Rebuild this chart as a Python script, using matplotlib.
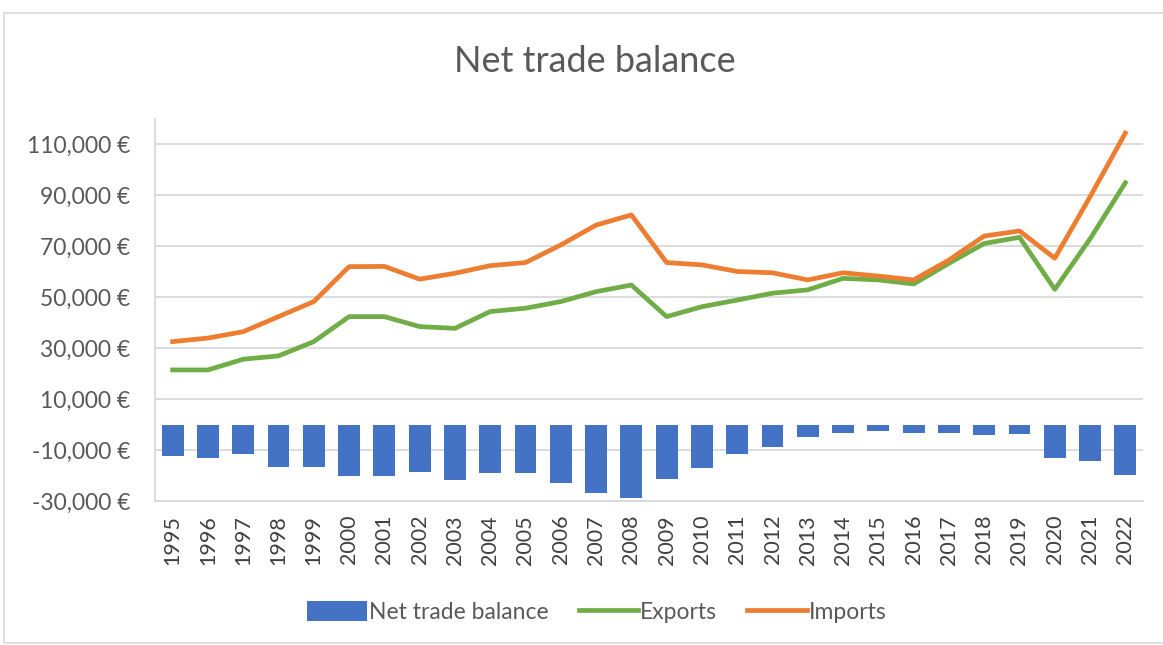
import matplotlib
matplotlib.use('Agg')
import matplotlib.pyplot as plt
import numpy as np
from matplotlib.patches import Rectangle
from matplotlib.ticker import FuncFormatter

years = list(range(1995, 2023))
exports = [21400, 21400, 25600, 26900, 32500, 42300, 42300, 38400, 37700, 44300,
           45600, 48200, 52100, 54700, 42300, 46200, 48800, 51500, 52800, 57300,
           56700, 55100, 63200, 71000, 73400, 53000, 72800, 94800]
imports = [32500, 33900, 36400, 42300, 48200, 61900, 62000, 57000, 59300, 62300,
           63500, 70400, 78200, 82200, 63500, 62600, 60000, 59500, 56700, 59500,
           58200, 56700, 64500, 73900, 75900, 65200, 89300, 114300]
net_balance = [-12300, -13300, -11700, -16500, -16500, -20200, -20200, -18500, -21800, -18900,
               -18900, -22800, -27000, -28900, -21500, -16900, -11700, -8800, -4800, -3200,
               -2400, -3200, -3200, -4100, -3700, -13300, -14200, -19800]

BLUE = '#4472C4'
GREEN = '#70AD47'
ORANGE = '#ED7D31'
TXT = '#595959'

plt.rcParams['font.family'] = ['Lato', 'DejaVu Sans']

fig = plt.figure(figsize=(11.63, 6.45), dpi=100)
fig.patch.set_facecolor('white')

# chart-area frame
fig.patches.append(Rectangle((4 / 1163, 2 / 645), 1.2, 630 / 645, transform=fig.transFigure,
                             fill=False, edgecolor='#D9D9D9', linewidth=1.2))

ax = fig.add_axes([155 / 1163, 1 - 501 / 645, (1143 - 155) / 1163, (501 - 118.5) / 645])
x = np.arange(len(years))

bars = ax.bar(x, net_balance, width=0.62, color=BLUE, zorder=2, label='Net trade balance')
l_exp, = ax.plot(x, exports, color=GREEN, linewidth=3.4, solid_joinstyle='round', zorder=3, label='Exports')
l_imp, = ax.plot(x, imports, color=ORANGE, linewidth=3.4, solid_joinstyle='round', zorder=4, label='Imports')

ax.set_xlim(-0.5, len(years) - 0.5)
ax.set_ylim(-30000, 120000)
ax.set_yticks(np.arange(-30000, 110001, 20000))
ax.yaxis.set_major_formatter(FuncFormatter(lambda v, p: f'{v:,.0f} €'))
ax.set_xticks(x)
ax.set_xticklabels([str(y) for y in years], rotation=90)

ax.grid(axis='y', color='#D9D9D9', linewidth=1.3, zorder=0)
ax.set_axisbelow(True)
for s in ['top', 'right']:
    ax.spines[s].set_visible(False)
ax.spines['left'].set_color('#D9D9D9')
ax.spines['bottom'].set_color('#D9D9D9')
ax.spines['left'].set_linewidth(1.3)
ax.spines['bottom'].set_linewidth(1.3)
ax.tick_params(axis='y', length=0, pad=18, labelsize=16.5, labelcolor=TXT)
ax.tick_params(axis='x', length=0, pad=10, labelsize=15.5, labelcolor='#404040')

fig.text(595 / 1163, 1 - 62 / 645, 'Net trade balance', ha='center', va='center',
         fontsize=26, color=TXT)

fig.legend([bars, l_exp, l_imp], ['Net trade balance', 'Exports', 'Imports'],
           loc='center', bbox_to_anchor=(597 / 1163, 1 - 612 / 645), ncol=3, frameon=False,
           fontsize=16.5, handlelength=2.6, handleheight=1.0, handletextpad=0.1, columnspacing=1.3,
           labelcolor=TXT)

fig.savefig('out.png', dpi=100)
